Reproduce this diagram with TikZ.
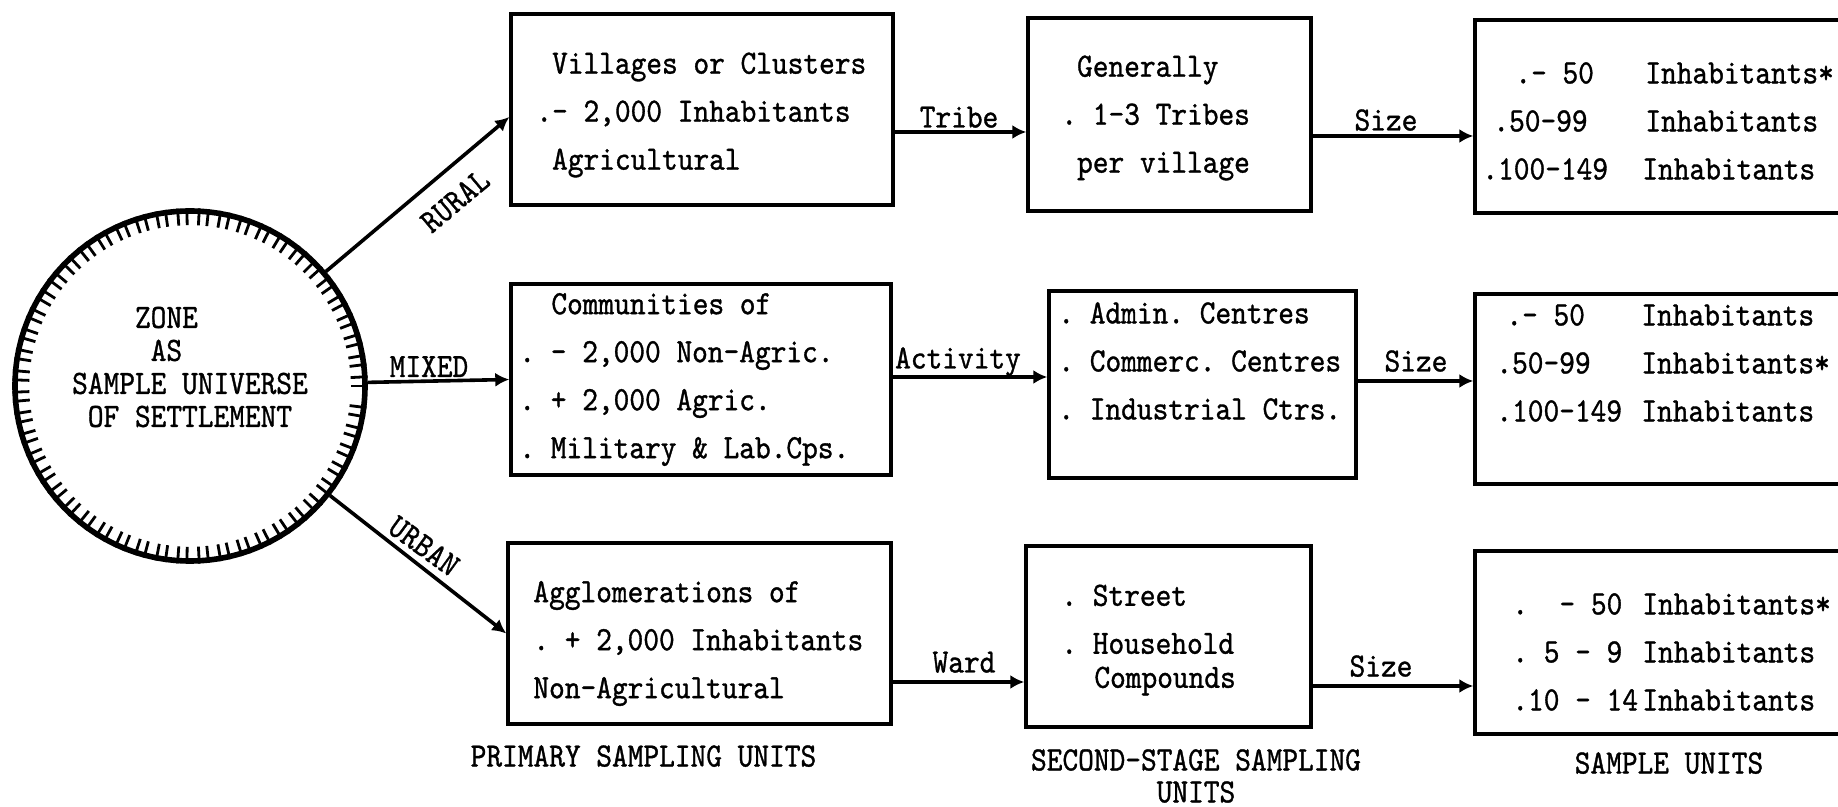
\documentclass[tikz,border=0pt]{standalone}
\usepackage{fontspec}
\newfontfamily\tw{lmmono10-regular.otf}[FakeStretch=0.88,FakeBold=1]
\usetikzlibrary{arrows.meta,calc}
\newcommand\inhline[4]{\hspace*{#1}\makebox[#2][l]{#3}#4}
\frenchspacing
\begin{document}
\frenchspacing
\begin{tikzpicture}[x=0.5pt,y=-0.5pt,
  every node/.style={font=\tw\frenchspacing\fontsize{17}{24}\selectfont, inner sep=0pt},
  box/.style={draw, line width=1.7pt, rectangle, inner sep=0pt},
  arr/.style={line width=1.8pt, -{Latex[length=7pt,width=7pt]}},
  tick/.style={line width=1.4pt},
  lbl/.style={anchor=base},
  txt/.style={anchor=west, align=left}
]
\useasboundingbox (0,0) rectangle (1838,807);

% zone circle
\node[draw, circle, line width=2.8pt, minimum size=175pt] (zone) at (190,386) {};
\foreach \a in {0,3.5,...,356.5}
  \draw[tick] (zone.\a) -- ($(zone.\a)!8.5pt!(zone.center)$);
\node[align=center, font=\tw\fontsize{17}{16.5}\selectfont] (zonetext) at (190,367)
  {ZONE\hphantom{ABC}\\AS\hphantom{ABC}\\SAMPLE UNIVERSE\\OF SETTLEMENT};

% boxes
\node[box, minimum width=191pt, minimum height=95.5pt] (p1) at (702,109.5) {};
\node[box, minimum width=141.5pt, minimum height=96.5pt] (s1) at (1169.5,114.5) {};
\node[box, minimum width=197.5pt, minimum height=96.5pt] (t1) at (1672.5,116.5) {};
\node[box, minimum width=190pt, minimum height=95.5pt] (p2) at (701,379.5) {};
\node[box, minimum width=153.5pt, minimum height=93.5pt] (s2) at (1202.5,384.5) {};
\node[box, minimum width=197.5pt, minimum height=95pt] (t2) at (1672.5,389) {};
\node[box, minimum width=191.5pt, minimum height=90.5pt] (p3) at (699.5,633.5) {};
\node[box, minimum width=142.5pt, minimum height=90.5pt] (s3) at (1168.5,636.5) {};
\node[box, minimum width=197.5pt, minimum height=91.5pt] (t3) at (1672.5,642.5) {};

% box texts
\node[txt] (p1t) at (536,115) {\hphantom{.}Villages or Clusters\\.- 2,000 Inhabitants\\\hphantom{.}Agricultural};
\node[txt] (s1t) at (1061,118) {\hphantom{.}Generally\\. 1-3 Tribes\\\hphantom{.}per village};
\node[txt] (t1t) at (1482,121) {\inhline{16.5pt}{65pt}{.- 50}{Inhabitants*}\\
  \inhline{5.5pt}{76pt}{.50-99}{Inhabitants}\\
  \inhline{0pt}{80pt}{.100-149}{Inhabitants}};
\node[txt] (p2t) at (519,379.5) {\hspace*{16pt}Communities of\\. - 2,000 Non-Agric.\\. + 2,000 Agric.\\. Military \& Lab.Cps.};
\node[txt] (s2t) at (1058,361) {. Admin. Centres\\. Commerc. Centres\\. Industrial Ctrs.};
\node[txt] (t2t) at (1496,363) {\inhline{5pt}{67.5pt}{.- 50}{Inhabitants}\\
  \inhline{0pt}{72.5pt}{.50-99}{Inhabitants*}\\
  \inhline{0pt}{72.5pt}{.100-149}{Inhabitants}};
\node[txt] (p3t) at (533,643.5) {Agglomerations of\\. + 2,000 Inhabitants\\Non-Agricultural};
\node[txt] (s3t) at (1061,640) {. Street\\. Household\\[-7pt]\hspace*{16.5pt}Compounds};
\node[txt] (t3t) at (1512,652) {\inhline{0pt}{65pt}{.\ \ - 50}{Inhabitants*}\\
  \inhline{0pt}{65pt}{.\ 5 - 9}{Inhabitants}\\
  \inhline{0pt}{65pt}{.10 - 14}{Inhabitants}};

% connectors from the zone
\draw[arr] (zone) -- ([yshift=-3.75pt]p1.west);
\draw[arr] (zone) -- (p2.west);
\draw[arr] (zone) -- (p3.west);
\node[rotate=40] (rural) at (455,201) {RURAL};
\node[lbl] (mixed) at (429,377) {MIXED};
\node[rotate=-36] (urban) at (424,546) {URBAN};

% row connectors
\coordinate (r1a) at ([yshift=-11.25pt]p1.east);
\coordinate (r1b) at ([yshift=-10.75pt]s1.east);
\coordinate (r2a) at ([yshift=1.25pt]p2.east);
\coordinate (r2b) at ([yshift=1.75pt]s2.east);
\coordinate (r3a) at ([yshift=-24.25pt]p3.east);
\coordinate (r3b) at ([yshift=-24.75pt]s3.east);
\draw[arr] (r1a) -- (r1a -| s1.west);
\draw[arr] (r1b) -- (r1b -| t1.west);
\draw[arr] (r2a) -- (r2a -| s2.west);
\draw[arr] (r2b) -- (r2b -| t2.west);
\draw[arr] (r3a) -- (r3a -| s3.west);
\draw[arr] (r3b) -- (r3b -| t3.west);

\node[lbl] (tribe) at (959,127.5) {Tribe};
\node[lbl] (size1) at (1386,130.5) {Size};
\node[lbl] (activity) at (958,368.5) {Activity};
\node[lbl] (size2) at (1416,371.5) {Size};
\node[lbl] (ward) at (964,672.5) {Ward};
\node[lbl] (size3) at (1381,676.5) {Size};

% column captions
\node[lbl] (cap1) at (643.5,766.5) {PRIMARY SAMPLING UNITS};
\node[align=center, font=\tw\fontsize{17}{16}\selectfont] (cap2) at (1196,776) {SECOND-STAGE SAMPLING\\UNITS};
\node[lbl] (cap3) at (1669,773.5) {SAMPLE UNITS};
\end{tikzpicture}
\end{document}
